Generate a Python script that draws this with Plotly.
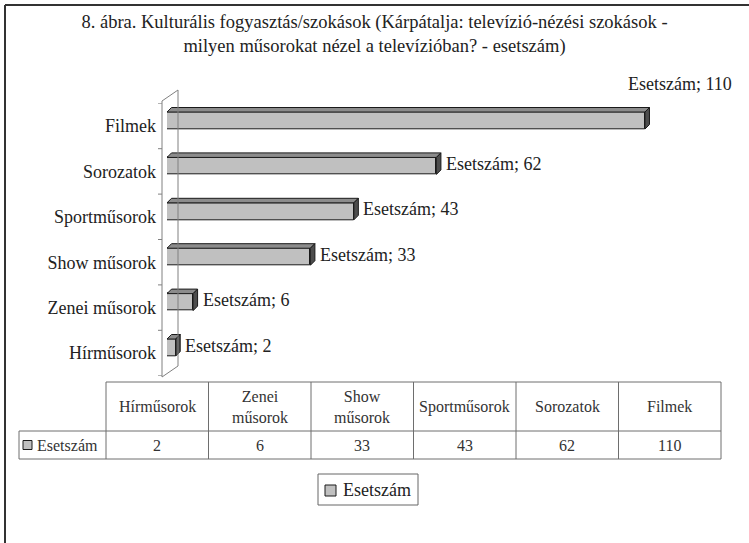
import plotly.graph_objects as go

# ---------------- data ----------------
categories = ["Hírműsorok", "Zenei műsorok", "Show műsorok", "Sportműsorok", "Sorozatok", "Filmek"]
values = [2, 6, 33, 43, 62, 110]
series_name = "Esetszám"
title_text = ("8. ábra. Kulturális fogyasztás/szokások (Kárpátalja: televízió-nézési szokások -<br>"
              "milyen műsorokat nézel a televízióban? - esetszám)")

# ---------------- styling / geometry ----------------
W, H = 749, 543
FONT = "Liberation Serif, Times New Roman, DejaVu Serif, serif"
TXT = "#222222"


def px(x):
    return x / W


def py(y):
    return 1 - y / H


X0, X1 = 167, 688.4          # plot area x pixels (0 .. XMAX)
Y_TOP, Y_BOT = 103.3, 375.7  # plot area y pixels
XMAX = 120
n = len(categories)
idx = list(range(n))
yoff, bw, dx, dy = 0.12, 0.375, 1.04, 0.10

FRONT, TOP, SIDE, EDGE = "#c0c0c0", "#8c8c8c", "#4d4d4d", "#1a1a1a"

fig = go.Figure()
fig.add_trace(go.Bar(
    x=values, y=[i + yoff for i in idx], orientation="h", width=bw,
    marker=dict(color=FRONT, line=dict(color=EDGE, width=1)),
    name=series_name, showlegend=False, hoverinfo="x"))

for i, v in zip(idx, values):
    yc = i + yoff
    top, bot = yc + bw / 2, yc - bw / 2
    fig.add_trace(go.Scatter(
        x=[0, v, v + dx, dx, 0], y=[top, top, top + dy, top + dy, top],
        fill="toself", fillcolor=TOP, mode="lines",
        line=dict(color=EDGE, width=1), showlegend=False, hoverinfo="skip"))
    fig.add_trace(go.Scatter(
        x=[v, v + dx, v + dx, v, v], y=[bot, bot + dy, top + dy, top, bot],
        fill="toself", fillcolor=SIDE, mode="lines",
        line=dict(color=EDGE, width=1), showlegend=False, hoverinfo="skip"))

shapes = []
ann = []

# figure frame (top and left)
shapes.append(dict(type="line", xref="paper", yref="paper", x0=px(5), x1=1, y0=py(5), y1=py(5),
                   line=dict(color="#333333", width=2)))
shapes.append(dict(type="line", xref="paper", yref="paper", x0=px(5), x1=px(5), y0=py(5), y1=0,
                   line=dict(color="#333333", width=2)))

# 3D wall
WALL = "#808080"
for (xa, ya, xb, yb) in [(162, 101, 162, 377), (178, 90, 178, 366), (162, 101, 178, 90), (162, 377, 178, 366)]:
    shapes.append(dict(type="line", xref="paper", yref="paper", x0=px(xa), y0=py(ya), x1=px(xb), y1=py(yb),
                       line=dict(color=WALL, width=1)))
for k in range(n + 1):
    shapes.append(dict(type="line", xref="paper", yref="y", x0=px(158), x1=px(162), y0=k - 0.5, y1=k - 0.5,
                       line=dict(color=WALL, width=1)))

# data labels
vmax = max(values)
for i, v in zip(idx, values):
    label = f"{series_name}; {v}"
    if v == vmax:
        ann.append(dict(x=v, y=i + yoff + bw / 2, xref="x", yref="y", text=label, showarrow=False,
                        xanchor="center", yanchor="bottom", xshift=35, yshift=16,
                        font=dict(family=FONT, size=18, color=TXT)))
    else:
        ann.append(dict(x=v + dx, y=i + yoff, xref="x", yref="y", text=label, showarrow=False,
                        xanchor="left", yanchor="middle", xshift=3, yshift=2,
                        font=dict(family=FONT, size=18, color=TXT)))

# data table
TL = "#6e6e6e"
cols = [106 + k * 102.5 for k in range(n + 1)]
T_TOP, T_MID, T_BOT, T_LEFT = 382, 431, 459, 19
shapes.append(dict(type="line", xref="paper", yref="paper", x0=px(cols[0]), x1=px(cols[-1]),
                   y0=py(T_TOP), y1=py(T_TOP), line=dict(color=TL, width=1)))
for yy in (T_MID, T_BOT):
    shapes.append(dict(type="line", xref="paper", yref="paper", x0=px(T_LEFT), x1=px(cols[-1]),
                       y0=py(yy), y1=py(yy), line=dict(color=TL, width=1)))
shapes.append(dict(type="line", xref="paper", yref="paper", x0=px(T_LEFT), x1=px(T_LEFT),
                   y0=py(T_MID), y1=py(T_BOT), line=dict(color=TL, width=1)))
for c in cols:
    shapes.append(dict(type="line", xref="paper", yref="paper", x0=px(c), x1=px(c),
                       y0=py(T_TOP), y1=py(T_BOT), line=dict(color=TL, width=1)))

for k, (cat, v) in enumerate(zip(categories, values)):
    xc = (cols[k] + cols[k + 1]) / 2
    ann.append(dict(x=px(xc), y=py((T_TOP + T_MID) / 2), xref="paper", yref="paper",
                    text=cat.replace(" ", "<br>"), showarrow=False, xanchor="center", yanchor="middle",
                    font=dict(family=FONT, size=16, color="#333333")))
    ann.append(dict(x=px(xc), y=py((T_MID + T_BOT) / 2), xref="paper", yref="paper",
                    text=str(v), showarrow=False, xanchor="center", yanchor="middle",
                    font=dict(family=FONT, size=16, color="#333333")))

# row header with key
shapes.append(dict(type="rect", xref="paper", yref="paper", x0=px(23), x1=px(32), y0=py(449.5), y1=py(440.5),
                   fillcolor=FRONT, line=dict(color=EDGE, width=1)))
ann.append(dict(x=px(35), y=py((T_MID + T_BOT) / 2), xref="paper", yref="paper", text=series_name,
                showarrow=False, xanchor="left", yanchor="middle",
                font=dict(family=FONT, size=16, color="#333333")))

# legend box (drawn as key)
shapes.append(dict(type="rect", xref="paper", yref="paper", x0=px(318), x1=px(418), y0=py(505), y1=py(474),
                   fillcolor="white", line=dict(color="#666666", width=1)))
shapes.append(dict(type="rect", xref="paper", yref="paper", x0=px(325), x1=px(336), y0=py(496), y1=py(485),
                   fillcolor=FRONT, line=dict(color=EDGE, width=1)))
ann.append(dict(x=px(341), y=py(490), xref="paper", yref="paper", text=series_name,
                showarrow=False, xanchor="left", yanchor="middle",
                font=dict(family=FONT, size=18, color=TXT)))

fig.update_layout(
    width=W, height=H, margin=dict(l=0, r=0, t=0, b=0),
    paper_bgcolor="white", plot_bgcolor="white",
    font=dict(family=FONT, color=TXT),
    title=dict(text=title_text, x=0.5, xanchor="center", xref="paper", y=py(28), yanchor="middle",
               yref="paper", font=dict(family=FONT, size=18.5, color=TXT)),
    xaxis=dict(domain=[px(X0), px(X1)], range=[0, XMAX], visible=False, fixedrange=True),
    yaxis=dict(domain=[py(Y_BOT), py(Y_TOP)], range=[-0.5, n - 0.5], tickmode="array",
               tickvals=idx, ticktext=categories, showgrid=False, zeroline=False, showline=False,
               ticks="", ticklabelstandoff=10, tickfont=dict(family=FONT, size=18, color=TXT),
               fixedrange=True),
    showlegend=False,
    shapes=shapes, annotations=ann, bargap=0,
)

fig.write_html("out.html", config={"displayModeBar": False},
               post_script="document.body.style.margin='0';")
